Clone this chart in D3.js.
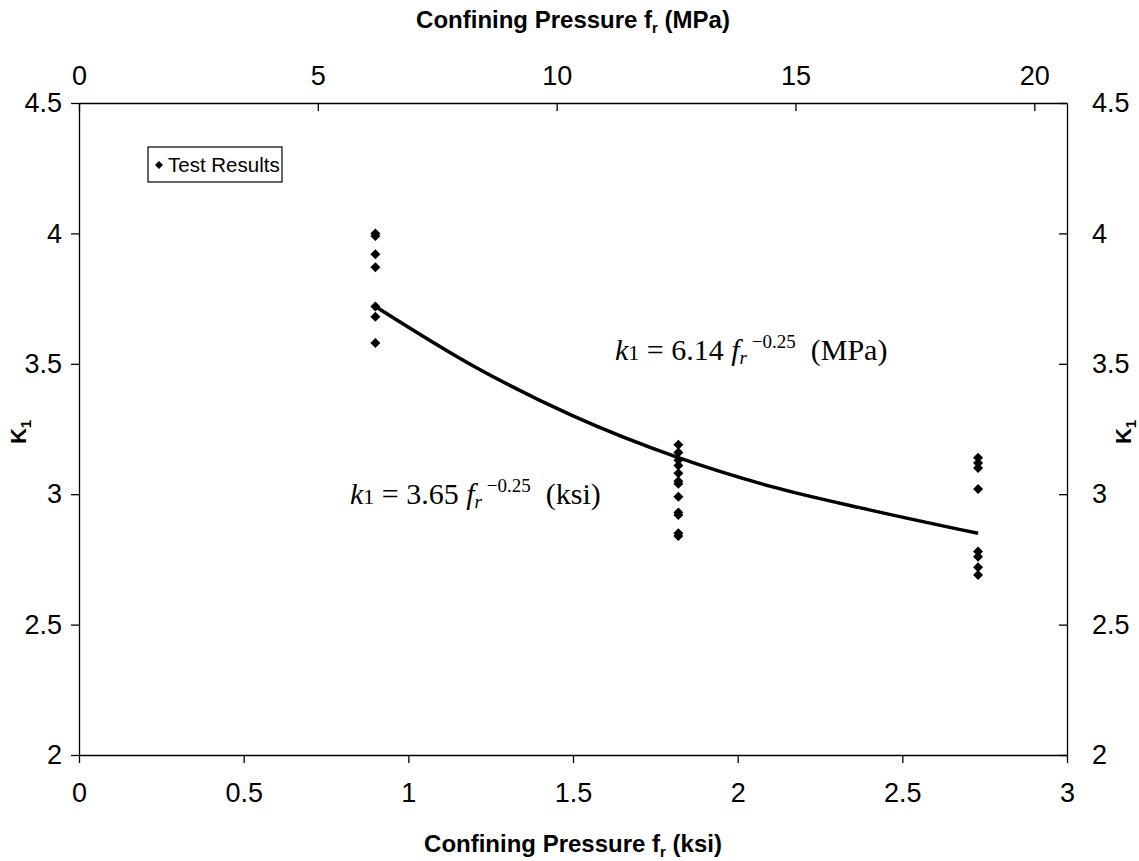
<!DOCTYPE html>
<html>
<head>
<meta charset="utf-8">
<script src="https://cdn.jsdelivr.net/npm/d3@7"></script>
<style>
  body { margin: 0; background: #fff; }
  text { font-family: "Liberation Sans", Arial, sans-serif; }
</style>
</head>
<body>
<svg width="1139" height="861"></svg>
<script>
// test results, confining pressure in ksi and k1
const testX = [0.9, 0.9, 0.9, 0.9, 0.9, 0.9, 0.9,
  1.82, 1.82, 1.82, 1.82, 1.82, 1.82, 1.82, 1.82, 1.82, 1.82, 1.82, 1.82,
  2.73, 2.73, 2.73, 2.73, 2.73, 2.73, 2.73, 2.73];
const testK = [4.00, 3.99, 3.92, 3.87, 3.72, 3.68, 3.58,
  3.19, 3.16, 3.13, 3.11, 3.08, 3.05, 3.04, 2.99, 2.93, 2.92, 2.85, 2.84,
  3.14, 3.12, 3.10, 3.02, 2.78, 2.76, 2.72, 2.69];

// fitted curve
const fitX = [0.9, 1.2, 1.5, 1.82, 2.1, 2.4, 2.73];
const fitK = [3.72, 3.49, 3.30, 3.14, 3.03, 2.94, 2.85];

const ksiTicks = [0, 0.5, 1, 1.5, 2, 2.5, 3];
const mpaTicks = [0, 5, 10, 15, 20];
const kTicks = [2, 2.5, 3, 3.5, 4, 4.5];

const svg = d3.select("svg");
const pL = 79, pR = 1067, pT = 103, pB = 755;

const x = d3.scaleLinear().domain([0, 3]).range([pL, pR]);
const xTop = d3.scaleLinear().domain([0, 3 * 6.895]).range([pL, pR]);
const y = d3.scaleLinear().domain([2, 4.5]).range([pB, pT]);

// axes
const fmt = d3.format("");
function styleAxis(g) {
  g.attr("font-size", 27).attr("font-family", "'Liberation Sans', Arial, sans-serif");
  g.selectAll("path, line").attr("stroke", "#000").attr("stroke-width", 1.3);
  g.selectAll("text").attr("fill", "#000");
}

svg.append("g").attr("transform", `translate(0,${pB})`)
  .call(d3.axisBottom(x).tickValues(ksiTicks).tickFormat(fmt).tickSizeInner(8).tickSizeOuter(0).tickPadding(20))
  .call(styleAxis);

svg.append("g").attr("transform", `translate(0,${pT})`)
  .call(d3.axisTop(xTop).tickValues(mpaTicks).tickFormat(fmt).tickSizeInner(-8).tickSizeOuter(0).tickPadding(18))
  .call(styleAxis);

svg.append("g").attr("transform", `translate(${pL},0)`)
  .call(d3.axisLeft(y).tickValues(kTicks).tickFormat(fmt).tickSizeInner(8).tickSizeOuter(0).tickPadding(9))
  .call(styleAxis);

svg.append("g").attr("transform", `translate(${pR},0)`)
  .call(d3.axisRight(y).tickValues(kTicks).tickFormat(fmt).tickSizeInner(-8).tickSizeOuter(0).tickPadding(25))
  .call(styleAxis);

// axis titles
function pressTitle(tx, ty, unit) {
  const t = svg.append("text").attr("x", tx).attr("y", ty)
    .attr("text-anchor", "middle").attr("font-size", 24).attr("font-weight", "bold");
  t.append("tspan").text("Confining Pressure f");
  t.append("tspan").attr("font-size", 15).attr("dy", 5).text("r");
  t.append("tspan").attr("dy", -5).text(` (${unit})`);
}
pressTitle(573, 28, "MPa");
pressTitle(573, 852, "ksi");

function kTitle(tx, ty) {
  const t = svg.append("text").attr("transform", `translate(${tx},${ty}) rotate(-90)`)
    .attr("text-anchor", "middle").attr("font-size", 22).attr("font-weight", "bold");
  t.append("tspan").text("K");
  t.append("tspan").attr("font-size", 15).attr("dy", 5).text("1");
}
kTitle(26, 432);
kTitle(1131, 432);

// fitted curve
const line = d3.line().x(d => x(d[0])).y(d => y(d[1])).curve(d3.curveMonotoneX);
svg.append("path").datum(fitX.map((v, i) => [v, fitK[i]]))
  .attr("d", line).attr("fill", "none").attr("stroke", "#000").attr("stroke-width", 3.5);

// points
const diamond = d3.symbol().type(d3.symbolSquare).size(50);
svg.append("g").selectAll("path")
  .data(testX.map((v, i) => [v, testK[i]]))
  .join("path")
  .attr("d", diamond)
  .attr("transform", d => `translate(${x(d[0])},${y(d[1])}) rotate(45)`)
  .attr("fill", "#000");

// legend
svg.append("rect").attr("x", 148).attr("y", 147).attr("width", 134).attr("height", 35)
  .attr("fill", "#fff").attr("stroke", "#000").attr("stroke-width", 1.2);
svg.append("path").attr("d", d3.symbol().type(d3.symbolSquare).size(32))
  .attr("transform", "translate(159,165) rotate(45)").attr("fill", "#000");
svg.append("text").attr("x", 168).attr("y", 172).attr("font-size", 20.5).text("Test Results");

// equations
function equation(tx, ty, coef, unit) {
  const t = svg.append("text").attr("x", tx).attr("y", ty).attr("font-size", 30)
    .style("font-family", "'Liberation Serif', 'Times New Roman', serif")
    .style("white-space", "pre");
  t.append("tspan").attr("font-style", "italic").text("k");
  t.append("tspan").attr("font-size", 22).text("1");
  t.append("tspan").text(` = ${coef} `);
  t.append("tspan").attr("font-style", "italic").text("f");
  t.append("tspan").attr("font-style", "italic").attr("font-size", 19).attr("dy", 4).text("r");
  t.append("tspan").attr("font-size", 19).attr("dy", -16).text(" \u22120.25");
  t.append("tspan").attr("dy", 12).text("  (" + unit + ")");
}
equation(615, 360, "6.14", "MPa");
equation(350, 504, "3.65", "ksi");
</script>
</body>
</html>
